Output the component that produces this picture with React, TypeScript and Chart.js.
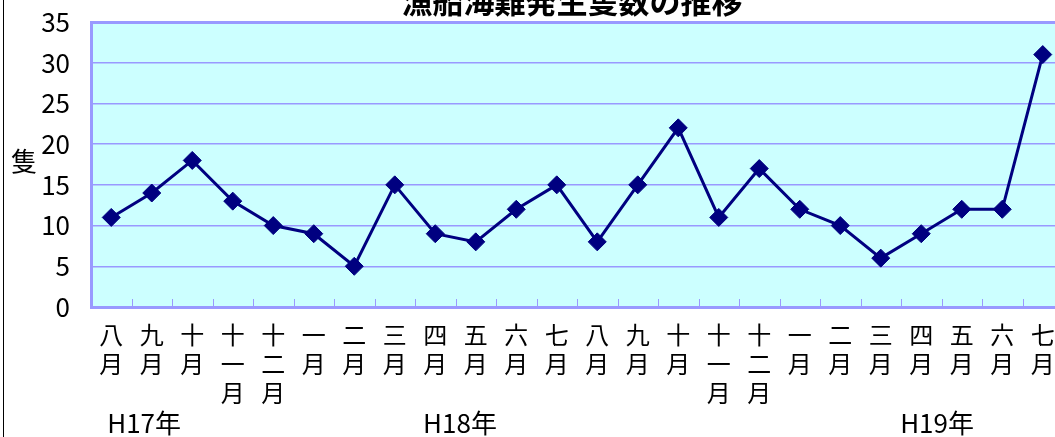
import React, { useEffect, useRef } from "react";
import { Chart, registerables } from "chart.js";

Chart.register(...registerables);

const chartTitle = "漁船海難発生隻数の推移";
const yAxisTitle = "隻";
const monthLabels: string[][] = [
  ["八", "月"], ["九", "月"], ["十", "月"], ["十", "一", "月"], ["十", "二", "月"], ["一", "月"],
  ["二", "月"], ["三", "月"], ["四", "月"], ["五", "月"], ["六", "月"], ["七", "月"],
  ["八", "月"], ["九", "月"], ["十", "月"], ["十", "一", "月"], ["十", "二", "月"], ["一", "月"],
  ["二", "月"], ["三", "月"], ["四", "月"], ["五", "月"], ["六", "月"], ["七", "月"],
];
const vesselCounts = [11, 14, 18, 13, 10, 9, 5, 15, 9, 8, 12, 15, 8, 15, 22, 11, 17, 12, 10, 6, 9, 12, 12, 31];
const yTicks = [0, 5, 10, 15, 20, 25, 30, 35];
const yearLabels = ["H17年", "H18年", "H19年"];

const W = 1100;
const H = 470;
const CJK = "'Noto Sans CJK JP', 'Noto Sans', sans-serif";
const NARROW = "'Liberation Sans Narrow', 'Noto Sans CJK JP', sans-serif";

const decorPlugin = {
  id: "decor",
  beforeDraw(chart: any) {
    const { ctx, chartArea: a } = chart;
    ctx.save();
    ctx.fillStyle = "#FFFFFF";
    ctx.fillRect(0, 0, chart.width, chart.height);
    ctx.fillStyle = "#CCFFFF";
    ctx.fillRect(a.left, a.top, a.right - a.left, a.bottom - a.top);
    ctx.restore();
  },
  beforeDatasetsDraw(chart: any) {
    const { ctx, chartArea: a } = chart;
    const xs = chart.scales.x;
    const n = chart.data.labels.length;
    ctx.save();
    ctx.strokeStyle = "#9999FF";
    ctx.lineWidth = 1;
    for (let k = 1; k < n; k++) {
      const bx = Math.round((xs.getPixelForValue(k - 1) + xs.getPixelForValue(k)) / 2) + 0.5;
      ctx.beginPath();
      ctx.moveTo(bx, a.bottom);
      ctx.lineTo(bx, a.bottom - 8);
      ctx.stroke();
    }
    ctx.lineWidth = 3;
    ctx.strokeRect(a.left + 0.5, a.top + 0.5, a.right - a.left, a.bottom - a.top);
    ctx.restore();
  },
  afterDraw(chart: any) {
    const { ctx, chartArea: a } = chart;
    const xs = chart.scales.x;
    ctx.save();
    // outer frame
    ctx.strokeStyle = "#000000";
    ctx.lineWidth = 1;
    ctx.beginPath();
    ctx.moveTo(3.5, 0);
    ctx.lineTo(3.5, chart.height);
    ctx.stroke();
    // title
    ctx.fillStyle = "#000000";
    ctx.font = `bold 31px ${CJK}`;
    ctx.textAlign = "center";
    ctx.textBaseline = "alphabetic";
    ctx.fillText(chartTitle, 572, 13);
    // y axis title
    ctx.font = `26px ${CJK}`;
    ctx.textBaseline = "middle";
    ctx.fillText(yAxisTitle, 24, (a.top + a.bottom) / 2 - 3);
    // year labels
    const step = xs.getPixelForValue(1) - xs.getPixelForValue(0);
    const x0 = xs.getPixelForValue(0);
    const at = [-0.1, 7.7, 19.48];
    ctx.font = `26px ${NARROW}`;
    ctx.textAlign = "left";
    ctx.textBaseline = "alphabetic";
    yearLabels.forEach((t, i) => ctx.fillText(t, x0 + at[i] * step, 433));
    ctx.restore();
  },
};

export default function App() {
  const ref = useRef<HTMLCanvasElement | null>(null);
  useEffect(() => {
    if (!ref.current) return;
    const chart = new Chart(ref.current, {
      type: "line",
      data: {
        labels: monthLabels,
        datasets: [
          {
            data: vesselCounts,
            borderColor: "#000080",
            backgroundColor: "#000080",
            borderWidth: 3,
            tension: 0,
            pointStyle: "rectRot",
            pointRadius: 9,
            pointBackgroundColor: "#000080",
            pointBorderColor: "#000080",
            pointBorderWidth: 1,
          },
        ],
      },
      options: {
        responsive: false,
        animation: false,
        devicePixelRatio: 1,
        layout: { padding: { left: 0, top: 22, right: W - 1063, bottom: 0 } },
        plugins: {
          legend: { display: false },
          title: { display: false },
          tooltip: { enabled: false },
        },
        scales: {
          x: {
            type: "category",
            offset: true,
            grid: { display: false },
            border: { display: false },
            ticks: {
              autoSkip: false,
              maxRotation: 0,
              minRotation: 0,
              padding: 5,
              color: "#000000",
              font: { family: CJK, size: 24, lineHeight: 1.22 },
            },
            afterFit(s: any) {
              s.height = H - 307;
              s.paddingLeft = 0;
              s.paddingRight = 0;
            },
          },
          y: {
            min: yTicks[0],
            max: yTicks[yTicks.length - 1],
            grid: { color: "#9999FF", lineWidth: 1.5, drawTicks: false },
            border: { display: false },
            ticks: {
              stepSize: 5,
              padding: 21,
              color: "#000000",
              font: { family: NARROW, size: 26 },
            },
            afterBuildTicks(s: any) {
              s.ticks = yTicks.map((v) => ({ value: v }));
            },
            afterFit(s: any) {
              s.width = 91;
              s.paddingTop = 0;
              s.paddingBottom = 0;
            },
          },
        },
      },
      plugins: [decorPlugin],
    } as any);
    return () => chart.destroy();
  }, []);
  return (
    <div
      style={{
        position: "absolute",
        left: 0,
        top: 0,
        width: 1055,
        height: 437,
        overflow: "hidden",
        background: "#FFFFFF",
      }}
    >
      <canvas ref={ref} width={W} height={H} style={{ width: W, height: H, display: "block" }} />
    </div>
  );
}
